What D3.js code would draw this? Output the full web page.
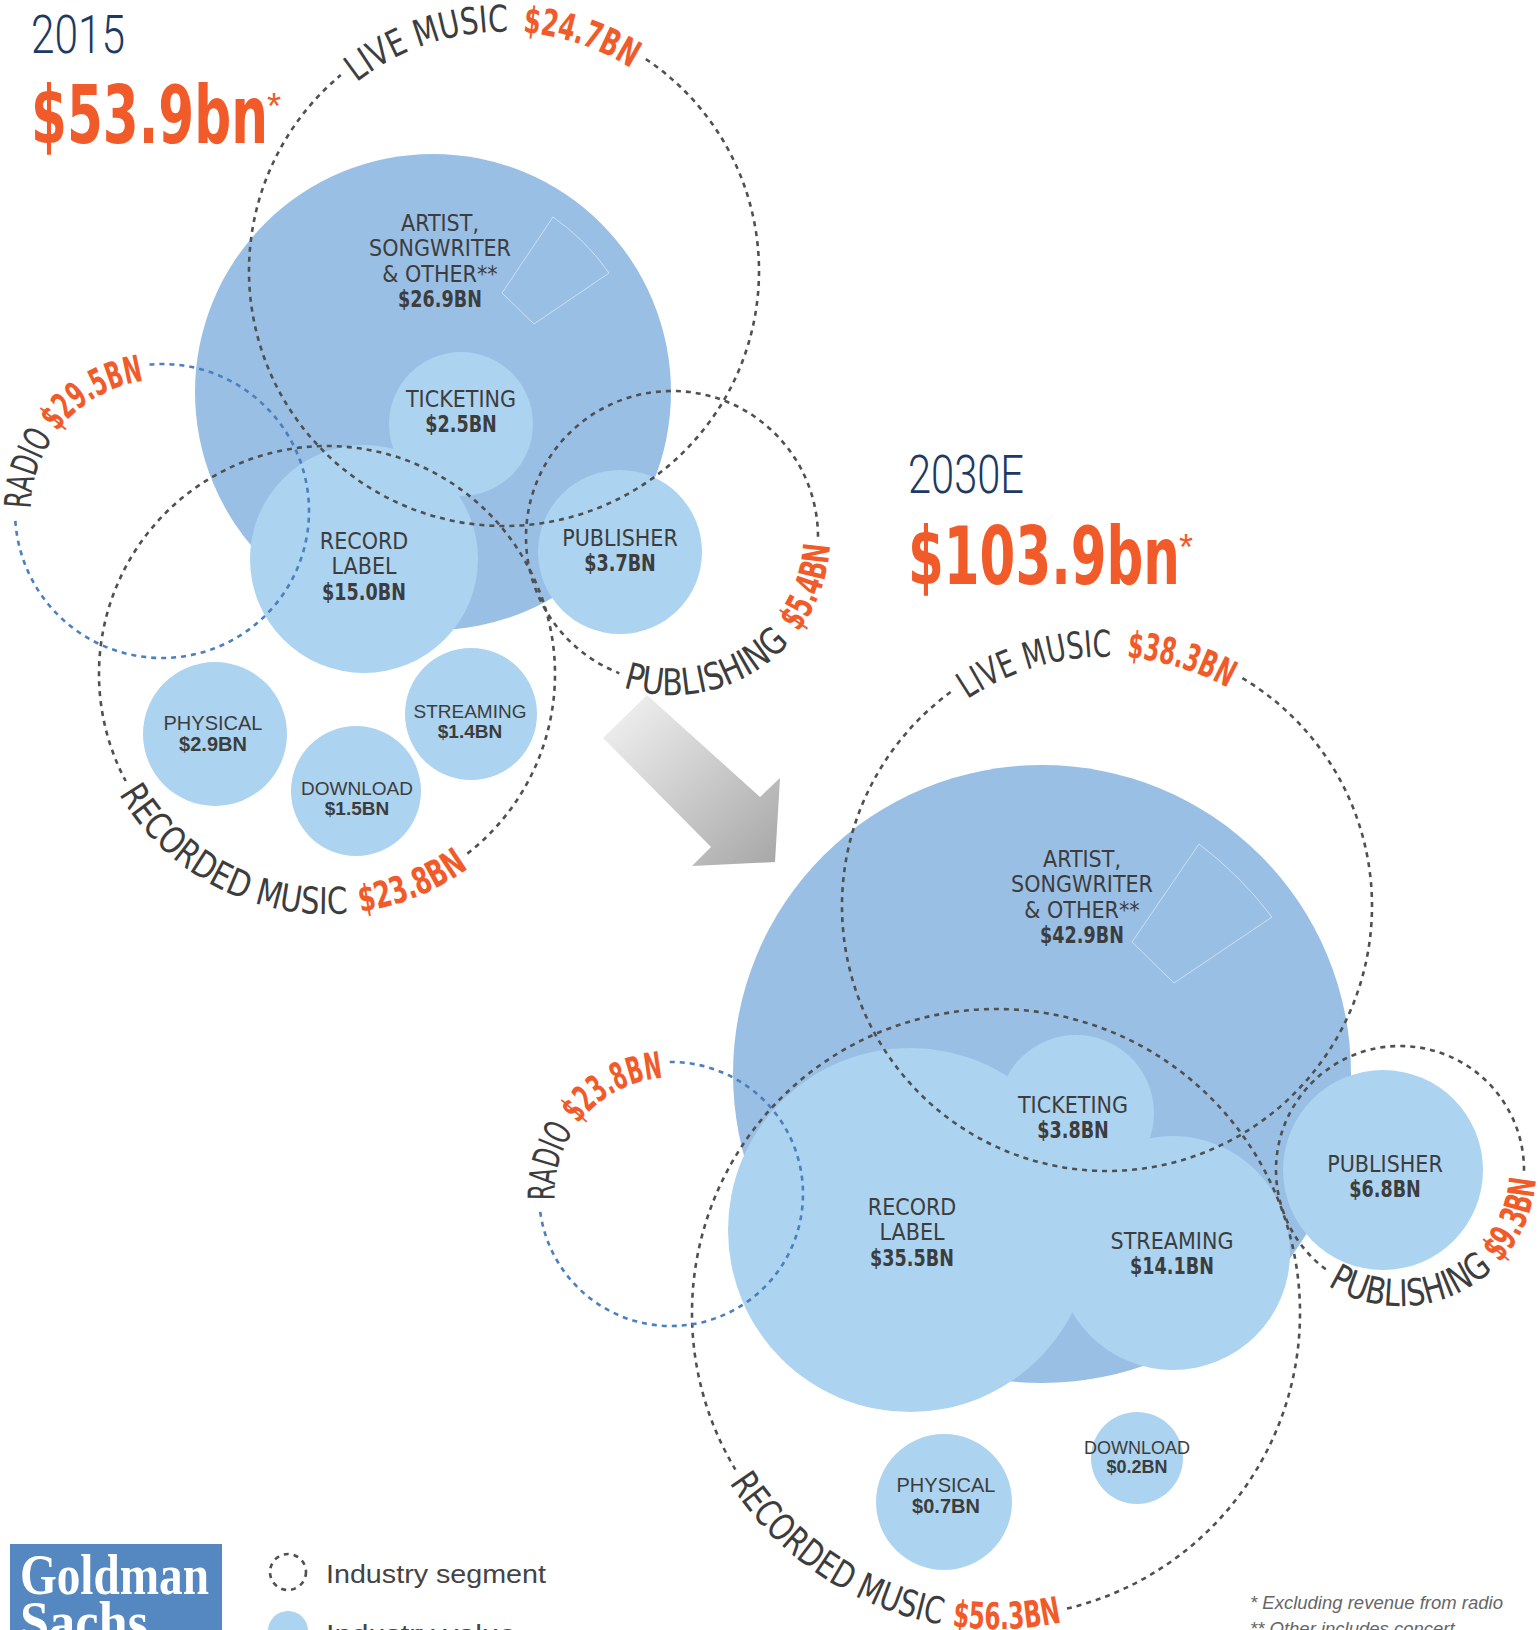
<!DOCTYPE html>
<html>
<head>
<meta charset="utf-8">
<script src="https://cdn.jsdelivr.net/npm/d3@7"></script>
<style>
body { margin: 0; background: #fff; }
svg { display: block; }
</style>
</head>
<body>
<script>
// ---- values ----
var years = ["2015", "2030E"];
var totals = [53.9, 103.9];
var segmentNames = ["LIVE MUSIC", "RECORDED MUSIC", "PUBLISHING", "RADIO"];
var segment2015 = [24.7, 23.8, 5.4, 29.5];
var segment2030 = [38.3, 56.3, 9.3, 23.8];
var playerNames = [["ARTIST,", "SONGWRITER", "& OTHER**"], ["TICKETING"], ["RECORD", "LABEL"],
                   ["PUBLISHER"], ["PHYSICAL"], ["DOWNLOAD"], ["STREAMING"]];
var player2015 = [26.9, 2.5, 15.0, 3.7, 2.9, 1.5, 1.4];
var player2030 = [42.9, 3.8, 35.5, 6.8, 0.7, 0.2, 14.1];
var legendLabels = ["Industry segment", "Industry value"];
var footnotes = ["* Excluding revenue from radio", "** Other includes concert"];

// ---- layout (positions / sizes) ----
// ring angles in degrees: a0 text start, n1 name end, v0 value start, a1 text end
var ring2015 = [
    {cx: 504, cy: 271, r: 255, a0: -128, n1: -89, v0: -85.5, a1: -58, dir: 1},
    {cx: 327, cy: 674, r: 228, a0: 150, n1: 85, v0: 82, a1: 54, dir: -1},
    {cx: 672, cy: 537, r: 146, a0: 108, n1: 42, v0: 37, a1: 3, dir: -1},
    {cx: 162, cy: 511, r: 147, a0: 181, n1: 214, v0: 217, a1: 262, dir: 1, blue: true}
];
var ring2030 = [
    {cx: 1107, cy: 906, r: 265, a0: -124, n1: -89, v0: -85.5, a1: -61, dir: 1},
    {cx: 996, cy: 1313, r: 304, a0: 147.5, n1: 100, v0: 98, a1: 78, dir: -1},
    {cx: 1400, cy: 1170, r: 124, a0: 122, n1: 47, v0: 43, a1: 4, dir: -1},
    {cx: 671, cy: 1194, r: 132, a0: 177, n1: 213, v0: 217, a1: 266, dir: 1, blue: true}
];
// bubble circles + label anchor (tx, ty = first baseline)
var bub2015 = [
    {cx: 433, cy: 392, r: 238, big: true, tx: 440, ty: 231, fs: 23, f: "n"},
    {cx: 461, cy: 424, r: 72, tx: 461, ty: 407, fs: 23, f: "n"},
    {cx: 364, cy: 559, r: 114, tx: 364, ty: 549, fs: 23, f: "n"},
    {cx: 620, cy: 552, r: 82, tx: 620, ty: 546, fs: 23, f: "n"},
    {cx: 215, cy: 734, r: 72, tx: 213, ty: 730, fs: 20, f: "r"},
    {cx: 356, cy: 791, r: 65, tx: 357, ty: 795, fs: 19, f: "r"},
    {cx: 471, cy: 714, r: 66, tx: 470, ty: 718, fs: 19, f: "r"}
];
var bub2030 = [
    {cx: 1042, cy: 1074, r: 309, big: true, tx: 1082, ty: 867, fs: 23, f: "n"},
    {cx: 1076, cy: 1113, r: 78, tx: 1073, ty: 1113, fs: 23, f: "n"},
    {cx: 910, cy: 1230, r: 182, tx: 912, ty: 1215, fs: 23, f: "n"},
    {cx: 1383, cy: 1170, r: 100, tx: 1385, ty: 1172, fs: 23, f: "n"},
    {cx: 944, cy: 1502, r: 68, tx: 946, ty: 1492, fs: 20, f: "r"},
    {cx: 1137, cy: 1458, r: 46, tx: 1137, ty: 1454, fs: 18, f: "r"},
    {cx: 1173, cy: 1253, r: 117, tx: 1172, ty: 1249, fs: 23, f: "n"}
];

var NARROW = "'Liberation Sans Narrow','Arial Narrow','DejaVu Sans Condensed',sans-serif";
var REGULAR = "'Liberation Sans',Arial,sans-serif";
var LIGHT = "Roboto,'Liberation Sans',sans-serif";
var ORANGE = "#f15a29";
var NAVY = "#1e3a62";
var TXT = "#3d3d3d";
var DARKBLUE = "#99bfe5";
var LIGHTBLUE = "#acd3f0";
var RAD = Math.PI / 180;

var width = 1538, height = 1630;
var fmt = d3.format(".1f");

var svg = d3.select("body").append("svg")
    .attr("width", width)
    .attr("height", height);
var defs = svg.append("defs");

var grad = defs.append("linearGradient").attr("id", "arrowGrad")
    .attr("x1", "0%").attr("y1", "0%").attr("x2", "100%").attr("y2", "100%");
grad.append("stop").attr("offset", "0%").attr("stop-color", "#f5f5f5");
grad.append("stop").attr("offset", "100%").attr("stop-color", "#a6a6a6");

var uid = 0;

function drawBubbles(g, vals, layout) {
    g.selectAll("circle.b")
        .data(layout).enter().append("circle")
        .attr("class", "b")
        .attr("cx", function(d){ return d.cx; })
        .attr("cy", function(d){ return d.cy; })
        .attr("r", function(d){ return d.r; })
        .attr("fill", function(d){ return d.big ? DARKBLUE : LIGHTBLUE; });
}

function drawDiamond(g, pts) {
    var p = d3.path();
    p.moveTo(pts[0][0], pts[0][1]);
    p.quadraticCurveTo((pts[0][0] + pts[1][0]) / 2 + 5, (pts[0][1] + pts[1][1]) / 2 - 5, pts[1][0], pts[1][1]);
    p.lineTo(pts[2][0], pts[2][1]);
    p.lineTo(pts[3][0], pts[3][1]);
    p.closePath();
    g.append("path").attr("d", p.toString())
        .attr("fill", "none")
        .attr("stroke", "#ffffff")
        .attr("stroke-opacity", 0.5)
        .attr("stroke-width", 1);
}

function drawRings(g, vals, layout) {
    layout.forEach(function(L, i) {
        var fs = 37;
        var capH = fs * 0.73;
        var rb = L.dir > 0 ? L.r - capH * 0.58 : L.r + capH * 0.45;
        var a0 = L.a0 * RAD;
        var p = d3.path();
        p.moveTo(L.cx + rb * Math.cos(a0), L.cy + rb * Math.sin(a0));
        p.arc(L.cx, L.cy, rb, a0, a0 + L.dir * 1.95 * Math.PI, L.dir < 0);
        var id = "ringpath" + (uid++);
        defs.append("path").attr("id", id).attr("d", p.toString());

        var nameLen = Math.abs(L.n1 - L.a0) * RAD * rb;
        var gapLen = Math.abs(L.v0 - L.n1) * RAD * rb;
        var valLen = Math.abs(L.a1 - L.v0) * RAD * rb;

        var t = g.append("text")
            .style("font-family", NARROW);
        var tp = t.append("textPath").attr("href", "#" + id);
        tp.append("tspan")
            .attr("fill", TXT)
            .attr("textLength", nameLen)
            .attr("lengthAdjust", "spacingAndGlyphs")
            .style("font-size", fs + "px")
            .text(segmentNames[i]);
        tp.append("tspan")
            .attr("dx", gapLen)
            .attr("fill", ORANGE)
            .attr("textLength", valLen)
            .attr("lengthAdjust", "spacingAndGlyphs")
            .style("font-size", fs + "px")
            .style("font-weight", "bold")
            .text("$" + fmt(vals[i]) + "BN");

        var pad = 8 / L.r;
        var s = L.a1 * RAD + L.dir * pad;
        var e = a0 + L.dir * (2 * Math.PI - pad);
        var arc = d3.path();
        arc.arc(L.cx, L.cy, L.r, s, e, L.dir < 0);
        g.insert("path", "text")
            .attr("d", arc.toString())
            .attr("fill", "none")
            .attr("stroke", L.blue ? "#4b7fc0" : "#505050")
            .attr("stroke-width", 2.6)
            .attr("stroke-dasharray", "5 5");
    });
}

function drawLabels(g, vals, layout) {
    layout.forEach(function(L, i) {
        var t = g.append("text")
            .attr("text-anchor", "middle")
            .attr("fill", TXT)
            .style("font-family", L.f == "n" ? NARROW : REGULAR)
            .style("font-size", L.fs + "px");
        var lh = L.fs * 1.1;
        playerNames[i].forEach(function(line, k) {
            t.append("tspan").attr("x", L.tx).attr("y", L.ty + k * lh).text(line);
        });
        var n = playerNames[i].length;
        var v = t.append("tspan").attr("x", L.tx).attr("y", L.ty + n * (L.f == "n" ? lh : L.fs * 1.05))
            .style("font-weight", "bold")
            .text("$" + fmt(vals[i]) + "BN");
        if (L.f == "n") {
            var w = v.node().getComputedTextLength();
            v.attr("textLength", w * 0.85).attr("lengthAdjust", "spacingAndGlyphs");
        }
    });
}

function drawTitle(x, y1, y2, yearIdx, len1, len2) {
    svg.append("text")
        .attr("x", x).attr("y", y1)
        .attr("fill", NAVY)
        .attr("textLength", len1)
        .attr("lengthAdjust", "spacingAndGlyphs")
        .style("font-family", LIGHT)
        .style("font-weight", 300)
        .style("font-size", "53px")
        .text(years[yearIdx]);
    svg.append("text")
        .attr("x", x).attr("y", y2)
        .attr("fill", ORANGE)
        .attr("textLength", len2)
        .attr("lengthAdjust", "spacingAndGlyphs")
        .style("font-family", NARROW)
        .style("font-size", "80px")
        .style("font-weight", "bold")
        .text("$" + fmt(totals[yearIdx]) + "bn");
    svg.append("text")
        .attr("x", x + len2 - 1).attr("y", y2 - 24)
        .attr("fill", ORANGE)
        .style("font-family", REGULAR)
        .style("font-size", "36px")
        .text("*");
}

// ---- 2015 panel ----
var g15 = svg.append("g");
drawBubbles(g15, player2015, bub2015);
drawDiamond(g15, [[553, 217], [609, 273], [534, 324], [502, 293]]);
var r15 = g15.append("g");
drawRings(r15, segment2015, ring2015);
drawLabels(g15, player2015, bub2015);
drawTitle(31, 53, 143, 0, 94, 237);

// ---- 2030 panel ----
var g30 = svg.append("g");
drawBubbles(g30, player2030, bub2030);
drawDiamond(g30, [[1199, 844], [1272, 917], [1174, 983], [1132, 942]]);
var r30 = g30.append("g");
drawRings(r30, segment2030, ring2030);
drawLabels(g30, player2030, bub2030);
drawTitle(908, 493, 584, 1, 116, 272);

// ---- arrow ----
var arrowPts = [[603, 738], [647, 695], [760, 797], [780, 778], [775, 862], [692, 866], [711, 847]];
svg.append("path")
    .attr("d", d3.line()(arrowPts) + "Z")
    .attr("fill", "url(#arrowGrad)");

// ---- logo ----
svg.append("rect")
    .attr("x", 10).attr("y", 1544)
    .attr("width", 212).attr("height", 100)
    .attr("fill", "#5587c0");
svg.append("text")
    .attr("x", 20).attr("y", 1594)
    .attr("fill", "#fff")
    .attr("textLength", 189)
    .attr("lengthAdjust", "spacingAndGlyphs")
    .style("font-family", "'Liberation Serif',serif")
    .style("font-weight", "bold")
    .style("font-size", "58px")
    .text("Goldman");
svg.append("text")
    .attr("x", 20).attr("y", 1641)
    .attr("fill", "#fff")
    .attr("textLength", 128)
    .attr("lengthAdjust", "spacingAndGlyphs")
    .style("font-family", "'Liberation Serif',serif")
    .style("font-weight", "bold")
    .style("font-size", "58px")
    .text("Sachs");

// ---- legend ----
svg.append("circle")
    .attr("cx", 288).attr("cy", 1572).attr("r", 18)
    .attr("fill", "none")
    .attr("stroke", "#505050")
    .attr("stroke-width", 2.6)
    .attr("stroke-dasharray", "5 5");
svg.append("circle")
    .attr("cx", 288).attr("cy", 1631).attr("r", 20)
    .attr("fill", LIGHTBLUE);
svg.selectAll("text.leg")
    .data(legendLabels).enter().append("text")
    .attr("class", "leg")
    .attr("x", 326)
    .attr("y", function(d, i){ return 1583 + i * 60; })
    .attr("fill", "#444")
    .attr("textLength", function(d, i){ return i == 0 ? 220 : 190; })
    .attr("lengthAdjust", "spacingAndGlyphs")
    .style("font-family", REGULAR)
    .style("font-size", "26px")
    .text(function(d){ return d; });

// ---- footnotes ----
svg.selectAll("text.fn")
    .data(footnotes).enter().append("text")
    .attr("class", "fn")
    .attr("x", 1250)
    .attr("y", function(d, i){ return 1609 + i * 26; })
    .attr("fill", "#666")
    .style("font-family", REGULAR)
    .style("font-size", "18.5px")
    .style("font-style", "italic")
    .text(function(d){ return d; });
</script>
</body>
</html>
